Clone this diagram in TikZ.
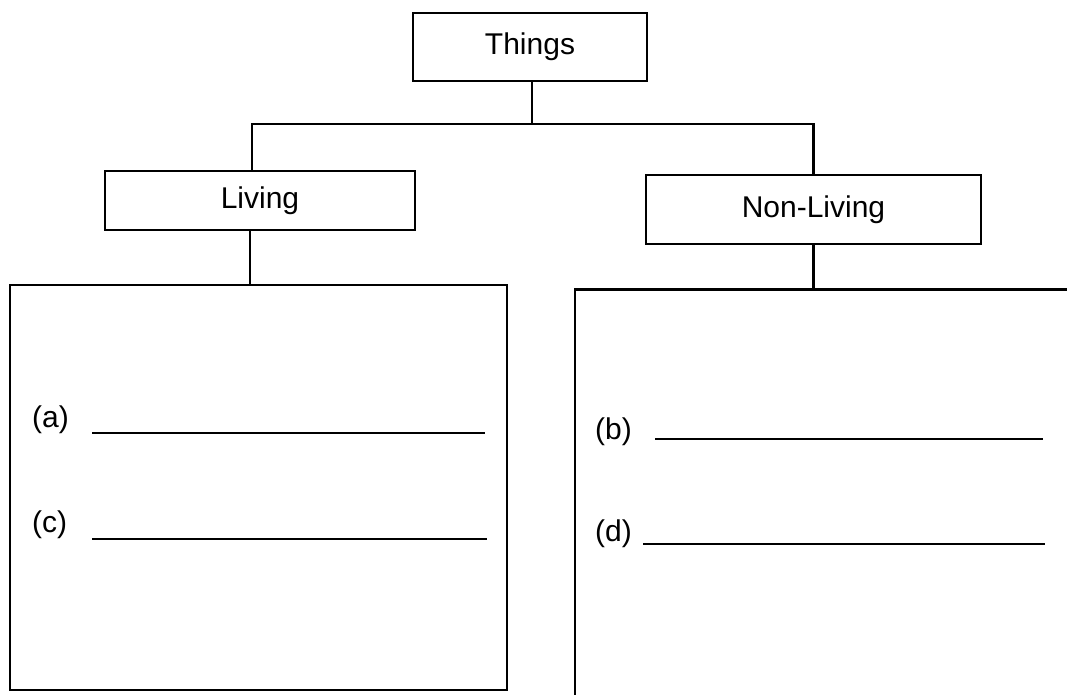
\documentclass[tikz,border=0pt]{standalone}
\usepackage{fontspec}
\setmainfont{Liberation Sans}
\begin{document}
\begin{tikzpicture}[x=1pt,y=-1pt,
  box/.style={draw, line width=2.6pt, inner sep=0pt, font=\fontsize{30}{36}\selectfont},
  wire/.style={line width=2.6pt},
  blank/.style={line width=2.8pt},
  lbl/.style={font=\fontsize{30}{36}\selectfont, inner sep=0pt, anchor=base west}]
\useasboundingbox (0,0) rectangle (1067,695);
% boxes
\node[box, minimum width=234pt, minimum height=68pt] (things) at (530,47) {Things};
\node[box, minimum width=310pt, minimum height=59pt] (living) at (260,200.5) {Living};
\node[box, minimum width=335pt, minimum height=69pt] (nonliving) at (813.5,209.5) {Non-Living};
\node[box, minimum width=497pt, minimum height=405pt] (leftbox) at (258.5,487.5) {};
% connector helpers
\coordinate (bus) at (532,124);
\coordinate (lx) at (252,0);
\coordinate (lx2) at (250,0);
\coordinate (rtop) at (813.5,289.5);
\coordinate (rcorner) at (575,289.5);
\coordinate (rright) at (1080,289.5);
\coordinate (rbottom) at (575,700);
% right open box
\draw[wire] (rright) -- (rcorner) -- (rbottom);
% connectors
\draw[wire] (things.south -| bus) -- (bus);
\draw[wire] (living.north -| lx) -- (lx |- bus) -- (nonliving.north |- bus) -- (nonliving.north);
\draw[wire] (living.south -| lx2) -- (leftbox.north -| lx2);
\draw[wire] (nonliving.south) -- (rtop);
% answer lines and labels
\node[lbl] (la) at (32,427) {(a)};
\node[lbl] (lc) at (32,532) {(c)};
\node[lbl] (lb) at (595,439) {(b)};
\node[lbl] (ld) at (595,541) {(d)};
\coordinate (a1) at (92,433);  \coordinate (a2) at (485,433);
\coordinate (c1) at (92,539);  \coordinate (c2) at (487,539);
\coordinate (b1) at (655,439); \coordinate (b2) at (1043,439);
\coordinate (d1) at (643,544); \coordinate (d2) at (1045,544);
\draw[blank] (a1) -- (a2);
\draw[blank] (c1) -- (c2);
\draw[blank] (b1) -- (b2);
\draw[blank] (d1) -- (d2);
\end{tikzpicture}
\end{document}
